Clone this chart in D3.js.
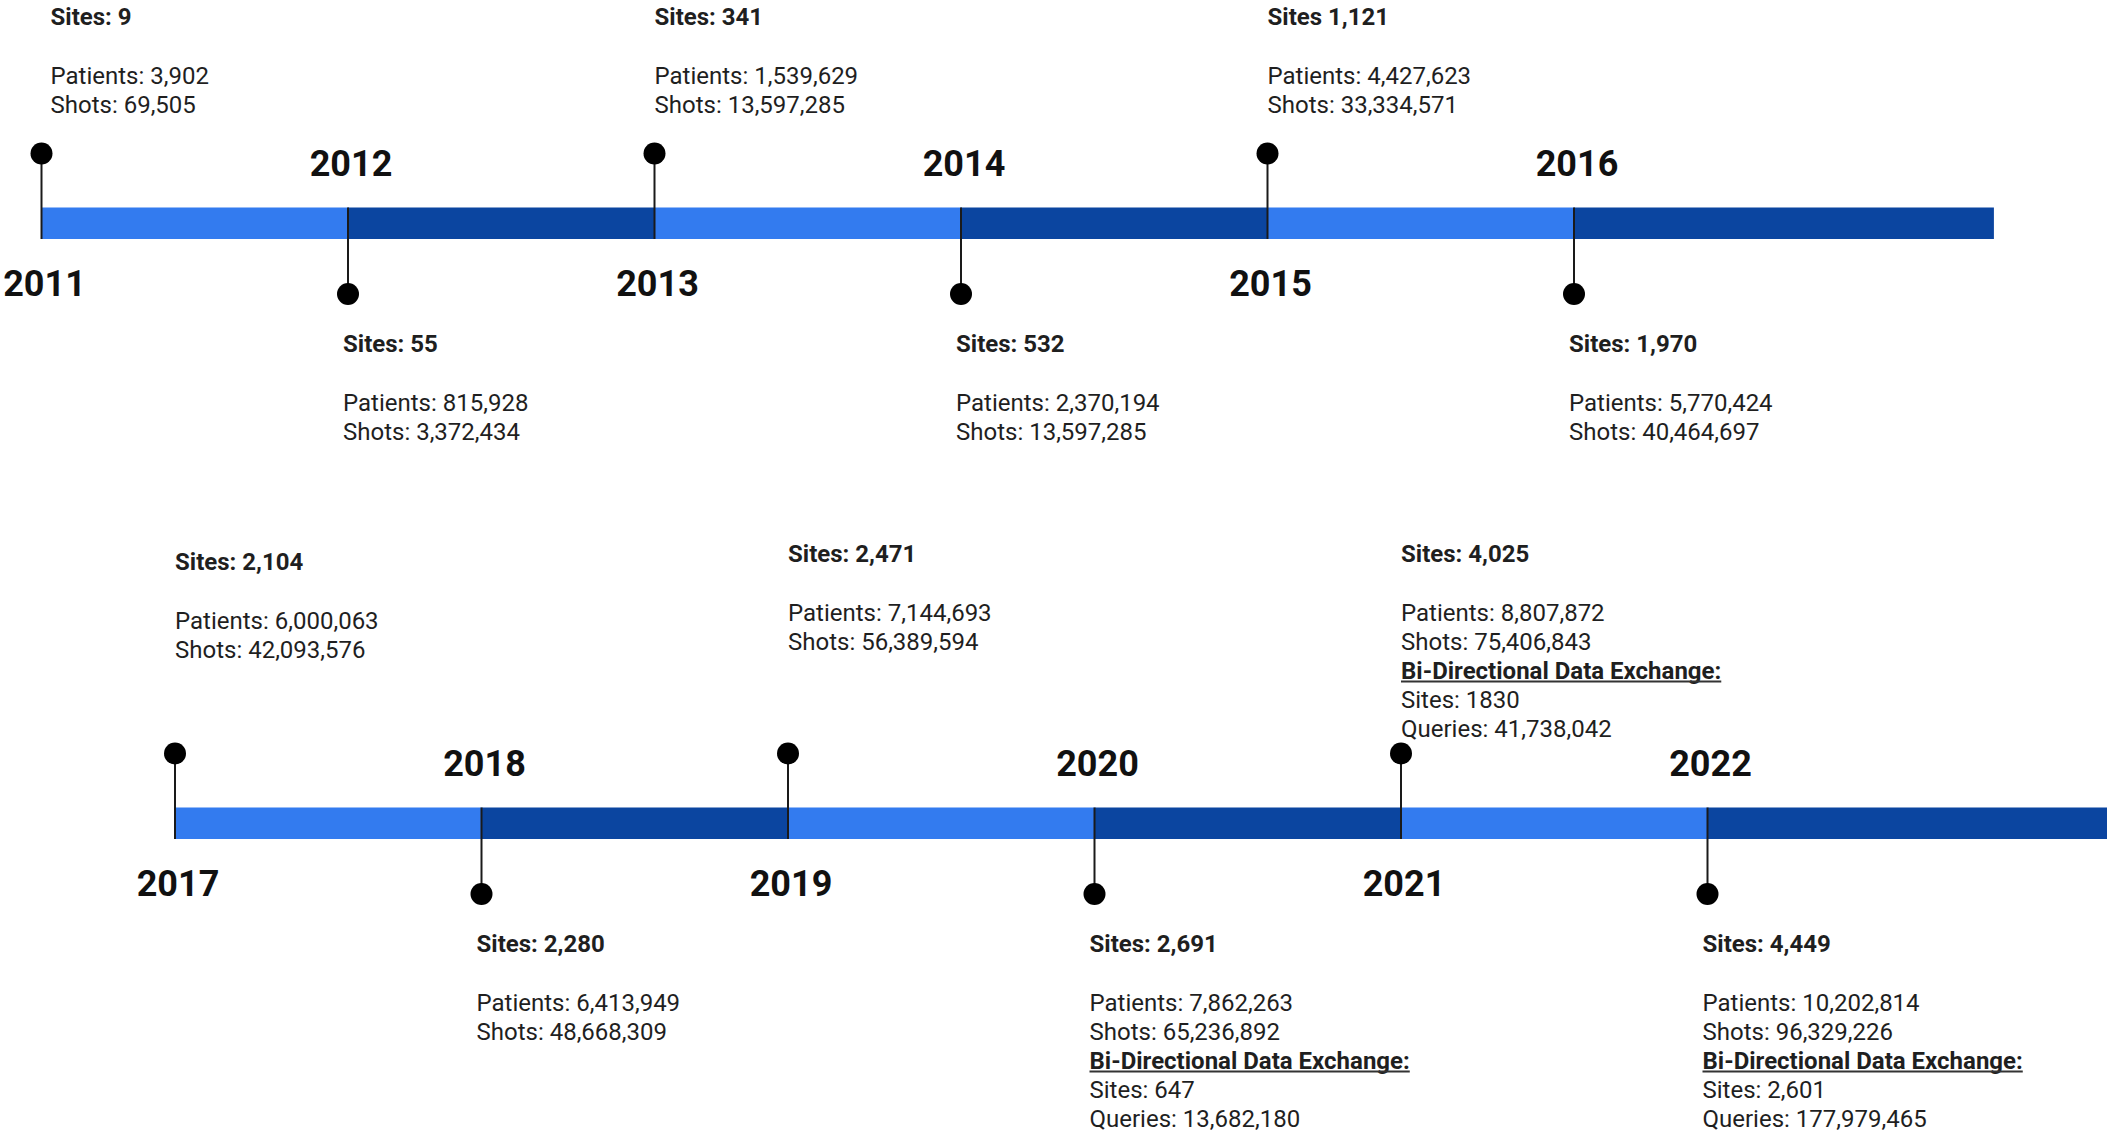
<!DOCTYPE html>
<html>
<head>
<meta charset="utf-8">
<script src="https://cdn.jsdelivr.net/npm/d3@7"></script>
<style>
    body { margin: 0; background: #fff; }
    svg { display: block; font-family: Roboto, "Noto Sans", sans-serif; }
</style>
</head>
<body>
<div id="chart"></div>
<script>
// data
const years    = [2011, 2012, 2013, 2014, 2015, 2016, 2017, 2018, 2019, 2020, 2021, 2022];
const sites    = [9, 55, 341, 532, 1121, 1970, 2104, 2280, 2471, 2691, 4025, 4449];
const patients = [3902, 815928, 1539629, 2370194, 4427623, 5770424, 6000063, 6413949, 7144693, 7862263, 8807872, 10202814];
const shots    = [69505, 3372434, 13597285, 13597285, 33334571, 40464697, 42093576, 48668309, 56389594, 65236892, 75406843, 96329226];

const exchangeYears   = [2020, 2021, 2022];
const exchangeSites   = [647, 1830, 2601];
const exchangeQueries = [13682180, 41738042, 177979465];

const rowStartYears = [2011, 2017];

// quirks of the original labels
const noColonYears = [2015];          // "Sites 1,121"
const plainExchangeSiteYears = [2021]; // "Sites: 1830"

/** LAYOUT **/
const W = 2107, H = 1134;
const yearsPerRow = 6;
const yearStep = 306.5;
const rowLeft = [41.5, 175];
const rowShift = [0, 600];
const aboveTextBase = [25, 562];
const barTop = 207.5, barH = 31.5;
const topDotY = 153.5, bottomDotY = 294;
const yearAboveBase = 176, yearBelowBase = 296;
const belowTextBase = 352;
const lineH = 29, firstGap = 58.5;
const dotR = 11;
const lightBlue = '#337bef', darkBlue = '#0b45a0';
const textColor = '#1f1f1f';
const nudge = {2011: [9, 0], 2017: [0, 8]};

const comma = d3.format(',');

let svg = d3.select('#chart').append('svg')
    .attr('width', W)
    .attr('height', H);

svg.append('rect').attr('width', W).attr('height', H).attr('fill', '#fff');

rowStartYears.forEach((startYear, row) => {
    let x = d3.scaleLinear()
        .domain([startYear, startYear + 1])
        .range([rowLeft[row], rowLeft[row] + yearStep]);
    let dy = rowShift[row];
    let rowYears = years.filter(y => y >= startYear && y < startYear + yearsPerRow);
    let barEnd = startYear + 6.37;

    let g = svg.append('g');

    // bar segments
    g.selectAll('rect.seg')
        .data(rowYears)
        .enter().append('rect')
        .attr('class', 'seg')
        .attr('x', d => x(d))
        .attr('y', barTop + dy)
        .attr('width', (d, j) => (j === rowYears.length - 1 ? x(barEnd) : x(d + 1)) - x(d))
        .attr('height', barH)
        .attr('fill', (d, j) => j % 2 === 0 ? lightBlue : darkBlue);

    // stems
    g.selectAll('line.stem')
        .data(rowYears)
        .enter().append('line')
        .attr('class', 'stem')
        .attr('x1', d => x(d))
        .attr('x2', d => x(d))
        .attr('y1', (d, j) => (j % 2 === 0 ? topDotY : barTop) + dy)
        .attr('y2', (d, j) => (j % 2 === 0 ? barTop + barH : bottomDotY) + dy)
        .attr('stroke', '#1a1a1a')
        .attr('stroke-width', 2);

    // dots
    g.selectAll('circle')
        .data(rowYears)
        .enter().append('circle')
        .attr('cx', d => x(d))
        .attr('cy', (d, j) => (j % 2 === 0 ? topDotY : bottomDotY) + dy)
        .attr('r', dotR)
        .attr('fill', '#000');

    // year labels
    g.selectAll('text.year')
        .data(rowYears)
        .enter().append('text')
        .attr('class', 'year')
        .attr('x', d => x(d) + 3)
        .attr('y', (d, j) => (j % 2 === 0 ? yearBelowBase : yearAboveBase) + dy)
        .attr('text-anchor', 'middle')
        .attr('font-size', 36)
        .attr('font-weight', 700)
        .attr('fill', '#111')
        .text(d => d);

    // annotations
    rowYears.forEach((year, j) => {
        let i = years.indexOf(year);
        let up = j % 2 === 0;
        let n = nudge[year] || [0, 0];
        let tx = up ? x(year) + n[0] : x(year) - 5;
        let ty = (up ? aboveTextBase[row] : belowTextBase + dy) + n[1];

        let lines = [
            {t: (noColonYears.includes(year) ? 'Sites ' : 'Sites: ') + comma(sites[i]), bold: true, gap: 0},
            {t: 'Patients: ' + comma(patients[i]), gap: firstGap},
            {t: 'Shots: ' + comma(shots[i]), gap: lineH}
        ];
        let k = exchangeYears.indexOf(year);
        if (k >= 0) {
            let s = plainExchangeSiteYears.includes(year) ? String(exchangeSites[k]) : comma(exchangeSites[k]);
            lines.push({t: 'Bi-Directional Data Exchange:', bold: true, underline: true, gap: lineH});
            lines.push({t: 'Sites: ' + s, gap: lineH});
            lines.push({t: 'Queries: ' + comma(exchangeQueries[k]), gap: lineH});
        }

        let yy = ty;
        lines.forEach(l => {
            yy += l.gap;
            let t = g.append('text')
                .attr('x', tx)
                .attr('y', yy)
                .attr('font-size', 24)
                .attr('font-weight', l.bold ? 700 : 400)
                .attr('fill', textColor)
                .text(l.t);
            if (l.underline) {
                g.append('rect')
                    .attr('x', tx)
                    .attr('y', yy + 2)
                    .attr('width', t.node().getComputedTextLength())
                    .attr('height', 2)
                    .attr('fill', '#333');
            }
        });
    });
});
</script>
</body>
</html>
